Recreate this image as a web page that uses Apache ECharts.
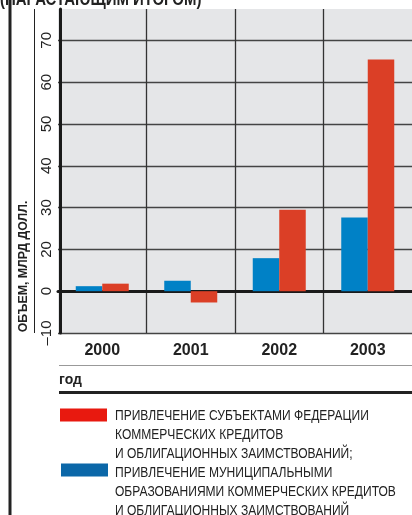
<!DOCTYPE html>
<html>
<head>
<meta charset="utf-8">
<script src="https://cdn.jsdelivr.net/npm/echarts@6/dist/echarts.min.js"></script>
<style>
  html, body { margin: 0; padding: 0; background: #fff; }
  #chart { width: 412px; height: 515px; }
</style>
</head>
<body>
<div id="chart"></div>
<script>
// годы
var years = ['2000', '2001', '2002', '2003'];
// values read on the evenly spaced gridlines (one gridline = 10)
var municipal = [1.2, 2.5, 7.9, 17.6];
var federal = [1.8, -2.7, 19.5, 55.4];
// gridlines and the labels printed on them (the printed scale skips 10)
var yGridValues = [-10, 0, 10, 20, 30, 40, 50, 60];
var yTickLabels = ['–10', '0', '20', '30', '40', '50', '60', '70'];

var federalName = 'ПРИВЛЕЧЕНИЕ СУБЪЕКТАМИ ФЕДЕРАЦИИ\nКОММЕРЧЕСКИХ КРЕДИТОВ\nИ ОБЛИГАЦИОННЫХ ЗАИМСТВОВАНИЙ;';
var municipalName = 'ПРИВЛЕЧЕНИЕ МУНИЦИПАЛЬНЫМИ\nОБРАЗОВАНИЯМИ КОММЕРЧЕСКИХ КРЕДИТОВ\nИ ОБЛИГАЦИОННЫХ ЗАИМСТВОВАНИЙ';

var font = "'Liberation Sans', Arial, sans-serif";

var chart = echarts.init(document.getElementById('chart'));

chart.setOption({
  animation: false,
  textStyle: { fontFamily: font },
  grid: {
    left: 58,
    right: 0,
    top: 9,
    bottom: 182,
    show: true,
    backgroundColor: '#e5e6e8',
    borderWidth: 0,
  },
  graphic: [
    // frame lines on the left
    { type: 'rect', shape: { x: 8.5, y: 0, width: 3, height: 515 }, style: { fill: '#222' } },
    { type: 'line', shape: { x1: 34.5, y1: 9, x2: 34.5, y2: 333 }, style: { stroke: '#222', lineWidth: 1 } },
    // title (cut at the top)
    {
      type: 'text', x: 0, y: 9, scaleX: 0.83,
      style: { text: '(НАРАСТАЮЩИМ ИТОГОМ)', font: 'bold 18px ' + font, fill: '#222', verticalAlign: 'bottom' },
    },
    // y axis name
    {
      type: 'text', x: 23, y: 266.5, rotation: Math.PI / 2, scaleX: 0.95,
      style: { text: 'ОБЪЕМ, МЛРД ДОЛЛ.', font: 'bold 13px ' + font, fill: '#222', align: 'center', verticalAlign: 'middle' },
    },
    // x axis name block
    { type: 'line', shape: { x1: 59, y1: 365.5, x2: 412, y2: 365.5 }, style: { stroke: '#999', lineWidth: 1 } },
    {
      type: 'text', x: 59, y: 380,
      style: { text: 'год', font: 'bold 14px ' + font, fill: '#222', verticalAlign: 'middle' },
    },
    { type: 'rect', shape: { x: 59, y: 391, width: 353, height: 3 }, style: { fill: '#222' } },
    // legend
    { type: 'rect', shape: { x: 60, y: 408.5, width: 47, height: 13 }, style: { fill: '#e8190f' } },
    {
      type: 'text', x: 115, y: 406.5, scaleX: 0.86,
      style: { text: federalName, font: '14px ' + font, lineHeight: 19, fill: '#222', verticalAlign: 'top' },
    },
    { type: 'rect', shape: { x: 61, y: 463.5, width: 47, height: 13 }, style: { fill: '#0b67a8' } },
    {
      type: 'text', x: 115, y: 463.2, scaleX: 0.86,
      style: { text: municipalName, font: '14px ' + font, lineHeight: 19, fill: '#222', verticalAlign: 'top' },
    },
  ],
  xAxis: {
    type: 'category',
    data: years,
    axisLine: {
      lineStyle: { color: '#1a1a1a', width: 3 },
    },
    axisTick: {
      show: false,
    },
    axisLabel: {
      fontSize: 16,
      fontWeight: 'bold',
      color: '#222',
      margin: 10,
    },
    splitLine: {
      show: true,
      showMinLine: false,
      showMaxLine: false,
      lineStyle: { color: '#333', width: 1.3 },
    },
  },
  yAxis: {
    type: 'value',
    min: -10,
    max: 67.5,
    interval: 10,
    offset: -2,
    axisLine: {
      show: true,
      lineStyle: { color: '#1a1a1a', width: 3 },
    },
    axisTick: {
      show: false,
      customValues: yGridValues,
    },
    axisLabel: {
      customValues: yGridValues,
      rotate: 90,
      margin: 6,
      fontSize: 15,
      color: '#222',
      formatter: function (v) {
        var i = yGridValues.indexOf(v);
        return i < 0 ? '' : yTickLabels[i];
      },
    },
    splitLine: {
      lineStyle: { color: '#444', width: 1.3 },
    },
  },
  series: [
    {
      name: municipalName,
      type: 'bar',
      barWidth: 26.5,
      barGap: '0%',
      itemStyle: { color: '#0081c6' },
      data: municipal,
    },
    {
      name: federalName,
      type: 'bar',
      barWidth: 26.5,
      barGap: '0%',
      itemStyle: { color: '#db3f26' },
      data: federal,
    },
  ],
})
</script>
</body>
</html>
